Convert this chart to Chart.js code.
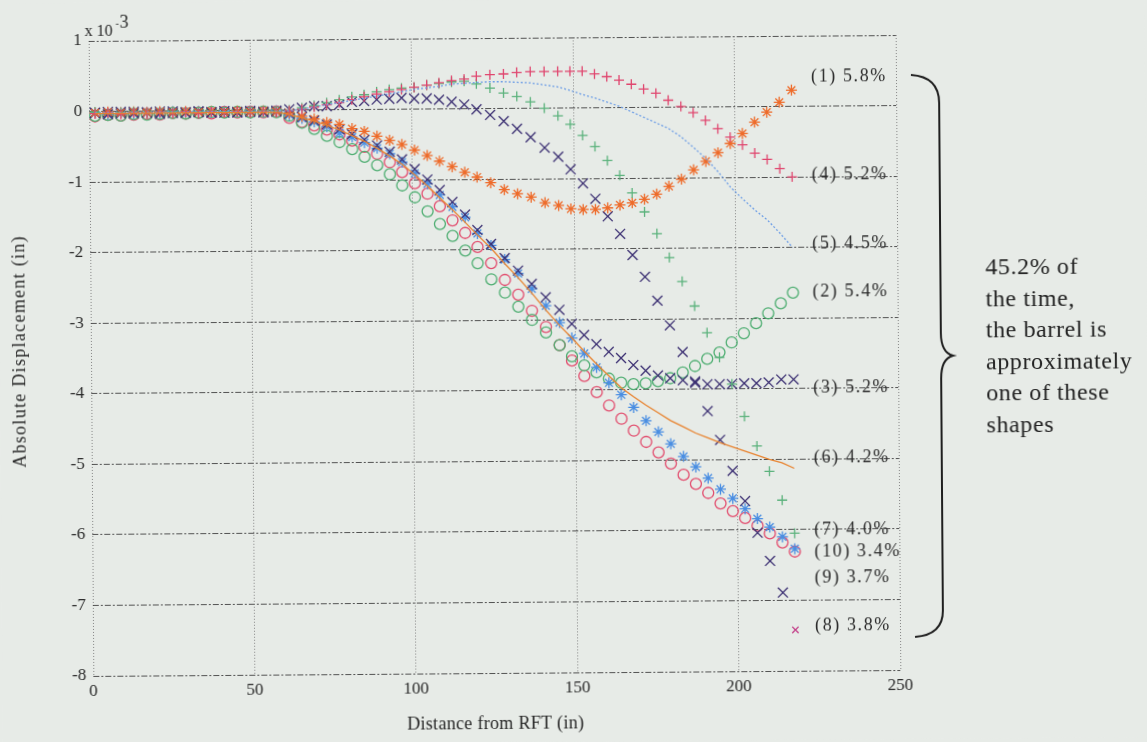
<!DOCTYPE html>
<html>
<head>
<meta charset="utf-8">
<script src="https://cdn.jsdelivr.net/npm/chart.js@4.4.1/dist/chart.umd.min.js"></script>
<style>
  html, body { margin: 0; padding: 0; background: #e7ebe7; overflow: hidden; }
  #wrap { width: 1147px; height: 742px; transform: rotate(-0.42deg); transform-origin: 494px 356px; }
</style>
</head>
<body>
<div id="wrap"><canvas id="barrelChart" width="1147" height="742"></canvas></div>
<script>
// distance from RFT (in), sample stations
var xPos = [1.8, 5.8, 9.8, 13.8, 17.9, 21.9, 25.9, 29.9, 33.9, 37.9, 41.9, 45.9, 49.9, 54, 58, 62,
    65.9, 69.7, 73.6, 77.5, 81.4, 85.2, 89.1, 93, 96.8, 100.7, 104.6, 108.4, 112.3, 116.2, 120,
    124.2, 128.4, 132.5, 136.7, 141, 145.2, 149,
    152.8, 156.6, 160.4, 164.2, 168, 171.8, 175.6, 179.4, 183.3, 187.1, 190.9, 194.7, 198.5, 202.3, 206.1, 209.9, 213.8, 217.6];

// displacement x 10^-3 (in)
var shape1 = [-0.03, -0.02, -0.04, -0.02, -0.03, -0.02, -0.03, -0.02, -0.04, -0.02, -0.03, -0.02, -0.03, -0.02, -0.03,
    -0.01, 0.01, 0.04, 0.07, 0.1, 0.14, 0.18, 0.22, 0.25, 0.28, 0.31, 0.34, 0.37, 0.4, 0.42,
    0.46, 0.48, 0.49, 0.51, 0.52, 0.52, 0.52, 0.52,
    0.52, 0.48, 0.44, 0.39, 0.33, 0.26, 0.2, 0.1, 0.01, -0.08, -0.19, -0.31, -0.43, -0.54, -0.66, -0.75, -0.88, -1.0];
var shape2 = [-0.06, -0.05, -0.06, -0.04, -0.05, -0.04, -0.03, -0.04, -0.03, -0.02, -0.03, -0.02, -0.03, -0.02, -0.03,
    -0.08, -0.18, -0.27, -0.37, -0.46, -0.56, -0.67, -0.79, -0.92, -1.08, -1.25, -1.45, -1.63, -1.8, -2.01,
    -2.19, -2.42, -2.61, -2.81, -3.0, -3.18, -3.36, -3.52,
    -3.65, -3.75, -3.84, -3.9, -3.92, -3.91, -3.88, -3.84, -3.76, -3.67, -3.57, -3.48, -3.34, -3.21, -3.07, -2.93, -2.79, -2.64];
var shape3 = [-0.02, -0.04, -0.01, -0.03, -0.02, -0.04, -0.01, -0.03, -0.02, -0.03, -0.01, -0.03, -0.02, -0.03, -0.02,
    -0.05, -0.1, -0.15, -0.21, -0.28, -0.35, -0.43, -0.51, -0.6, -0.71, -0.85, -1.0, -1.15, -1.32, -1.5,
    -1.72, -1.92, -2.12, -2.3, -2.49, -2.68, -2.86, -3.06,
    -3.22, -3.35, -3.46, -3.55, -3.65, -3.73, -3.8, -3.84, -3.87, -3.91, -3.93, -3.93, -3.93, -3.92, -3.92, -3.91, -3.87, -3.87];
var shape4 = [-0.02, -0.01, -0.02, -0.01, -0.02, -0.01, -0.02, -0.01, -0.02, -0.01, -0.02, -0.01, -0.02, -0.01, -0.02,
    -0.04, -0.09, -0.13, -0.18, -0.21, -0.27, -0.31, -0.38, -0.44, -0.5, -0.58, -0.66, -0.74, -0.82, -0.9,
    -0.97, -1.05, -1.15, -1.21, -1.26, -1.34, -1.38, -1.43,
    -1.44, -1.44, -1.42, -1.38, -1.35, -1.3, -1.23, -1.12, -1.02, -0.89, -0.77, -0.65, -0.52, -0.38, -0.22, -0.08, 0.06, 0.23];
var shape5 = [-0.02, -0.02, -0.02, -0.02, -0.02, -0.02, -0.02, -0.02, -0.02, -0.02, -0.02, -0.02, -0.02, -0.02, -0.02,
    -0.01, 0.01, 0.04, 0.07, 0.1, 0.13, 0.16, 0.19, 0.22, 0.25, 0.28, 0.3, 0.32, 0.35, 0.36,
    0.37, 0.38, 0.38, 0.37, 0.36, 0.33, 0.3, 0.25,
    0.19, 0.14, 0.08, 0.02, -0.06, -0.14, -0.22, -0.3, -0.42, -0.57, -0.73, -0.92, -1.14, -1.31, -1.47, -1.61, -1.8, -2.0];
var shape6 = [-0.03, -0.03, -0.03, -0.03, -0.03, -0.03, -0.03, -0.03, -0.03, -0.03, -0.03, -0.03, -0.03, -0.03, -0.03,
    -0.06, -0.11, -0.16, -0.22, -0.29, -0.37, -0.45, -0.55, -0.66, -0.78, -0.93, -1.09, -1.26, -1.43, -1.61,
    -1.79, -1.98, -2.2, -2.4, -2.62, -2.86, -3.08, -3.26,
    -3.45, -3.63, -3.8, -3.97, -4.1, -4.22, -4.33, -4.44, -4.53, -4.62, -4.69, -4.76, -4.82, -4.88, -4.94, -5.0, -5.05, -5.13];
var shape7 = [-0.01, -0.03, -0.02, -0.01, -0.03, -0.02, -0.01, -0.03, -0.02, -0.01, -0.02, -0.03, -0.02, -0.01, -0.02,
    0.0, 0.03, 0.06, 0.1, 0.14, 0.18, 0.21, 0.25, 0.28, 0.3, 0.31, 0.34, 0.36, 0.38, 0.39,
    0.35, 0.29, 0.22, 0.17, 0.09, 0.0, -0.11, -0.23,
    -0.39, -0.55, -0.75, -0.96, -1.21, -1.48, -1.79, -2.13, -2.47, -2.82, -3.2, -3.55, -3.93, -4.39, -4.81, -5.17, -5.58, -6.05];
var shape8 = [-0.02, -0.01, -0.03, -0.01, -0.02, -0.01, -0.03, -0.02, -0.01, -0.02, -0.03, -0.02, -0.01, -0.02, -0.01,
    0.01, 0.03, 0.05, 0.05, 0.07, 0.11, 0.12, 0.14, 0.15, 0.16, 0.15, 0.15, 0.13, 0.1, 0.06,
    -0.01, -0.09, -0.18, -0.29, -0.41, -0.56, -0.69, -0.87,
    -1.07, -1.29, -1.54, -1.79, -2.09, -2.4, -2.74, -3.09, -3.47, -3.89, -4.31, -4.72, -5.16, -5.59, -6.04, -6.44, -6.89, -7.42];
var shape9 = [-0.02, -0.04, -0.02, -0.03, -0.02, -0.03, -0.01, -0.02, -0.01, -0.02, -0.01, -0.02, -0.01, -0.02, -0.01,
    -0.07, -0.12, -0.17, -0.24, -0.33, -0.39, -0.47, -0.55, -0.63, -0.75, -0.91, -1.06, -1.22, -1.39, -1.54,
    -1.77, -1.94, -2.14, -2.34, -2.56, -2.8, -3.04, -3.26,
    -3.48, -3.68, -3.9, -4.07, -4.25, -4.44, -4.6, -4.77, -4.95, -5.1, -5.26, -5.42, -5.55, -5.7, -5.84, -5.96, -6.1, -6.27];
var shape10 = [-0.07, -0.05, -0.06, -0.05, -0.04, -0.05, -0.03, -0.04, -0.03, -0.04, -0.02, -0.03, -0.02, -0.03, -0.02,
    -0.11, -0.17, -0.22, -0.28, -0.35, -0.44, -0.53, -0.63, -0.75, -0.89, -1.05, -1.2, -1.38, -1.58, -1.76,
    -1.96, -2.19, -2.43, -2.64, -2.87, -3.1, -3.36, -3.58,
    -3.8, -4.03, -4.22, -4.41, -4.58, -4.74, -4.89, -5.05, -5.21, -5.34, -5.47, -5.62, -5.73, -5.83, -5.94, -6.05, -6.18, -6.31];

// end-of-curve labels and where they sit (data units)
var shapeLabels = ['(1) 5.8%', '(4) 5.2%', '(5) 4.5%', '(2) 5.4%', '(3) 5.2%', '(6) 4.2%', '(7) 4.0%', '(10) 3.4%', '(9) 3.7%', '(8) 3.8%'];
var shapeLabelY = [0.42, -0.97, -1.95, -2.63, -3.99, -4.99, -6.01, -6.32, -6.69, -7.36];
var shapeLabelX = 223.7;

var xTicks = [0, 50, 100, 150, 200, 250];
var yTicks = [1, 0, -1, -2, -3, -4, -5, -6, -7, -8];

var noteLines = ['45.2% of', 'the time,', 'the barrel is', 'approximately', 'one of these', 'shapes'];

var paper = '#e7ebe7';
var serif = '"Liberation Serif", "DejaVu Serif", serif';

function pts(values) {
    return xPos.map(function (x, i) { return { x: x, y: values[i] }; });
}

function markers(values, style, color, radius) {
    return {
        data: pts(values),
        showLine: false,
        pointStyle: style,
        pointRadius: radius,
        pointBorderColor: color,
        pointBackgroundColor: 'rgba(0,0,0,0)',
        pointBorderWidth: 1.3
    };
}

function curve(values, color, dash) {
    return {
        data: pts(values),
        showLine: true,
        borderColor: color,
        borderWidth: 1.3,
        borderDash: dash,
        pointRadius: 0,
        fill: false
    };
}

var deep = markers(shape8, 'crossRot', '#3b2f72', 7);
deep.pointRadius = function (ctx) { return ctx.dataIndex === shape8.length - 1 ? 4.5 : 7; };
deep.pointBorderColor = function (ctx) { return ctx.dataIndex === shape8.length - 1 ? '#c23a86' : '#3b2f72'; };

var datasets = [
    curve(shape6, '#e8832f', []),
    curve(shape5, '#6f9fe6', [2, 2]),
    markers(shape1, 'cross', '#e0456e', 5),
    markers(shape7, 'cross', '#5bb27c', 5),
    markers(shape4, 'star', '#ee6b2a', 5.5),
    markers(shape3, 'crossRot', '#3b2f72', 7),
    deep,
    markers(shape9, 'star', '#4a8ee2', 5.5),
    markers(shape2, 'circle', '#4fae72', 5.5),
    markers(shape10, 'circle', '#e24d6e', 5.5)
];

var extras = {
    id: 'extras',
    beforeDraw: function (chart) {
        var ctx = chart.ctx;
        ctx.save();
        ctx.fillStyle = paper;
        ctx.fillRect(0, 0, chart.width, chart.height);
        ctx.restore();
    },
    afterDraw: function (chart) {
        var ctx = chart.ctx;
        var xs = chart.scales.x, ys = chart.scales.y;
        ctx.save();
        ctx.fillStyle = '#262626';

        // x 10^-3 multiplier
        ctx.textBaseline = 'alphabetic';
        ctx.textAlign = 'left';
        ctx.font = '16px ' + serif;
        ctx.fillText('x 10', 87, 33);
        ctx.font = '10px ' + serif;
        ctx.fillText('-', 118, 24);
        ctx.font = '18px ' + serif;
        ctx.fillText('3', 122, 25);

        // axis titles
        ctx.font = '18px ' + serif;
        ctx.textAlign = 'center';
        ctx.textBaseline = 'middle';
        ctx.letterSpacing = '0.3px';
        ctx.fillText('Distance from RFT (in)', 493, 724);
        ctx.save();
        ctx.translate(20, 348);
        ctx.rotate(-Math.PI / 2);
        ctx.letterSpacing = '1.3px';
        ctx.fillText('Absolute Displacement (in)', 0, 0);
        ctx.restore();

        // curve labels
        ctx.textAlign = 'left';
        ctx.letterSpacing = '1.6px';
        ctx.fillStyle = '#2b2b2b';
        shapeLabels.forEach(function (txt, i) {
            ctx.fillText(txt, xs.getPixelForValue(shapeLabelX), ys.getPixelForValue(shapeLabelY[i]));
        });

        // brace
        ctx.strokeStyle = '#1f1f1f';
        ctx.lineWidth = 2;
        ctx.beginPath();
        ctx.moveTo(913, 78);
        ctx.quadraticCurveTo(941, 80, 941, 106);
        ctx.lineTo(941, 336);
        ctx.quadraticCurveTo(941, 356, 953, 359);
        ctx.quadraticCurveTo(941, 362, 941, 382);
        ctx.lineTo(941, 614);
        ctx.quadraticCurveTo(941, 638, 913, 640);
        ctx.stroke();

        // note
        ctx.font = '24px ' + serif;
        ctx.letterSpacing = '0.6px';
        ctx.fillStyle = '#222';
        noteLines.forEach(function (line, i) {
            ctx.fillText(line, 986, 272 + i * 31.5);
        });
        ctx.restore();
    }
};

var chart = new Chart(document.getElementById('barrelChart'), {
    type: 'scatter',
    data: { datasets: datasets },
    options: {
        responsive: false,
        animation: false,
        devicePixelRatio: 1,
        layout: { padding: { top: 38, right: 249, left: 0, bottom: 0 } },
        plugins: { legend: { display: false }, tooltip: { enabled: false } },
        scales: {
            x: {
                type: 'linear',
                min: 0,
                max: 250,
                afterFit: function (s) { s.height = 69; },
                afterBuildTicks: function (s) { s.ticks = xTicks.map(function (v) { return { value: v }; }); },
                ticks: { font: { family: serif, size: 17 }, color: '#2a2a2a', padding: 5, maxRotation: 0 },
                grid: { color: 'rgba(115,115,115,0.85)', lineWidth: 1, drawTicks: false },
                border: { display: false, dash: [1, 2] }
            },
            y: {
                type: 'linear',
                min: -8,
                max: 1,
                afterFit: function (s) { s.width = 91; },
                afterBuildTicks: function (s) { s.ticks = yTicks.map(function (v) { return { value: v }; }); },
                ticks: { font: { family: serif, size: 17 }, color: '#2a2a2a', padding: 7 },
                grid: { color: 'rgba(55,55,55,0.85)', lineWidth: 1, drawTicks: false },
                border: { display: false, dash: [6, 2, 2, 2] }
            }
        }
    },
    plugins: [extras]
});
</script>
</body>
</html>
